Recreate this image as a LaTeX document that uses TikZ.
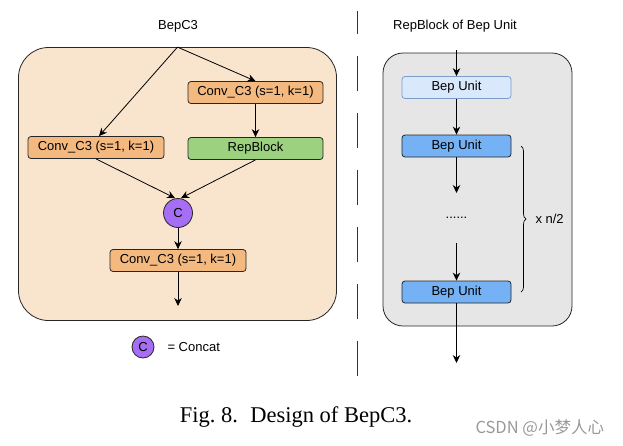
\documentclass[tikz,border=0pt]{standalone}
\usepackage{fontspec}
\setmainfont{Liberation Serif}
\setsansfont{Liberation Sans}
\newfontfamily\cjkfont{Noto Sans CJK SC}
\usepackage{xcolor}
\usetikzlibrary{arrows.meta}
\usetikzlibrary{decorations.pathreplacing}

\definecolor{peach}{HTML}{F9E5CD}
\definecolor{convorange}{HTML}{F4B97F}
\definecolor{repgreen}{HTML}{9BD17F}
\definecolor{catpurple}{HTML}{A56EF5}
\definecolor{unitlight}{HTML}{DAE8FC}
\definecolor{unitlightline}{HTML}{7C9CC9}
\definecolor{unitblue}{HTML}{75B1F5}
\definecolor{panelgray}{HTML}{E6E6E6}

\begin{document}
\begin{tikzpicture}[x=1pt,y=-1pt,
	font=\sffamily\fontsize{13}{15}\selectfont,
	bracedraw/.style={
		decorate,
		decoration={brace,amplitude=5pt}
	}]
	\useasboundingbox (0,0) rectangle (623,445);
	%\draw[help lines,step=50] (0,0) grid (623,445);
	\tikzstyle{panel} = [draw=black!85,line width=0.8pt,inner sep=0pt]
	\tikzstyle{convbox} = [draw=black!85,line width=0.8pt,fill=convorange,rounded corners=3,inner sep=0pt,minimum height=22]
	\tikzstyle{unitbox} = [draw=black!85,line width=0.8pt,fill=unitblue,rounded corners=3,inner sep=0pt,minimum width=109,minimum height=22]
	\tikzstyle{catnode} = [draw=black!85,line width=0.8pt,circle,fill=catpurple,inner sep=0pt]
	\tikzstyle{edge} = [->,>={Stealth[length=8pt,width=7.5pt]},line width=0.8pt]

	% left: BepC3
	\node (t1) at (178,26) {BepC3};
	\node[panel,fill=peach,minimum width=318,minimum height=273,rounded corners=30] (p) at (177.5,184) {};
	\node[convbox,minimum width=135] (b) at (255.5,92.5) {Conv\_C3 (s=1, k=1)};
	\node[convbox,minimum width=136] (c) at (96,147.5) {Conv\_C3 (s=1, k=1)};
	\node[convbox,fill=repgreen,minimum width=135] (d) at (255.5,148.5) {RepBlock};
	\node[catnode,minimum size=29] (e) at (178,213) {C};
	\node[convbox,minimum width=136] (f) at (178,260.5) {Conv\_C3 (s=1, k=1)};
	\coordinate (g) at (178,306);

	\draw (p.north) edge [edge] ([xshift=3]c.north);
	\draw (p.north) edge [edge] (b.north);
	\draw (b) edge [edge] (d);
	\draw (c.south) edge [edge] ([xshift=-3]e.north);
	\draw (d.south) edge [edge] ([xshift=3]e.north);
	\draw (e) edge [edge] (f);
	\draw (f) edge [edge] (g);

	% legend
	\node[catnode,minimum size=22] (k) at (143,347) {C};
	\node[anchor=west] (l) at (164,347) {= Concat};

	% divider
	\draw[line width=0.9pt,black!80,dash pattern=on 35pt off 22pt] (357.5,376) -- (357.5,11);

	% right: RepBlock of Bep Unit
	\node (t2) at (455,26) {RepBlock of Bep Unit};
	\node[panel,fill=panelgray,minimum width=189,minimum height=273,rounded corners=20] (q) at (477.5,189.5) {};
	\coordinate (r) at (456.5,50);
	\node[unitbox,fill=unitlight,draw=unitlightline] (h) at (456.5,87.5) {Bep Unit};
	\node[unitbox] (i) at (456.5,146) {Bep Unit};
	\coordinate (s) at (456.5,193);
	\node (dots) at (456.5,218) {......};
	\coordinate (u) at (456.5,243);
	\node[unitbox] (j) at (456.5,292) {Bep Unit};
	\coordinate (v) at (456.5,363);

	\draw (r) edge [edge] (h);
	\draw (h) edge [edge] (i);
	\draw (i) edge [edge] (s);
	\draw (u) edge [edge] (j);
	\draw (j) edge [edge] (v);

	\draw[bracedraw,line width=0.7pt] (521,146) -- (521,292);
	\node[anchor=west] (n) at (532,219) {x n/2};

	% caption and mark
	\node[font=\rmfamily\fontsize{22.5}{26}\selectfont,anchor=base] (cap) at (296,422) {Fig.~8.\hspace{0.55em}Design of BepC3.};
	\node[anchor=base west,text=black!40,font=\cjkfont\fontsize{16.5}{18}\selectfont] (w) at (472,433) {CSDN @小梦人心};
\end{tikzpicture}
\end{document}
